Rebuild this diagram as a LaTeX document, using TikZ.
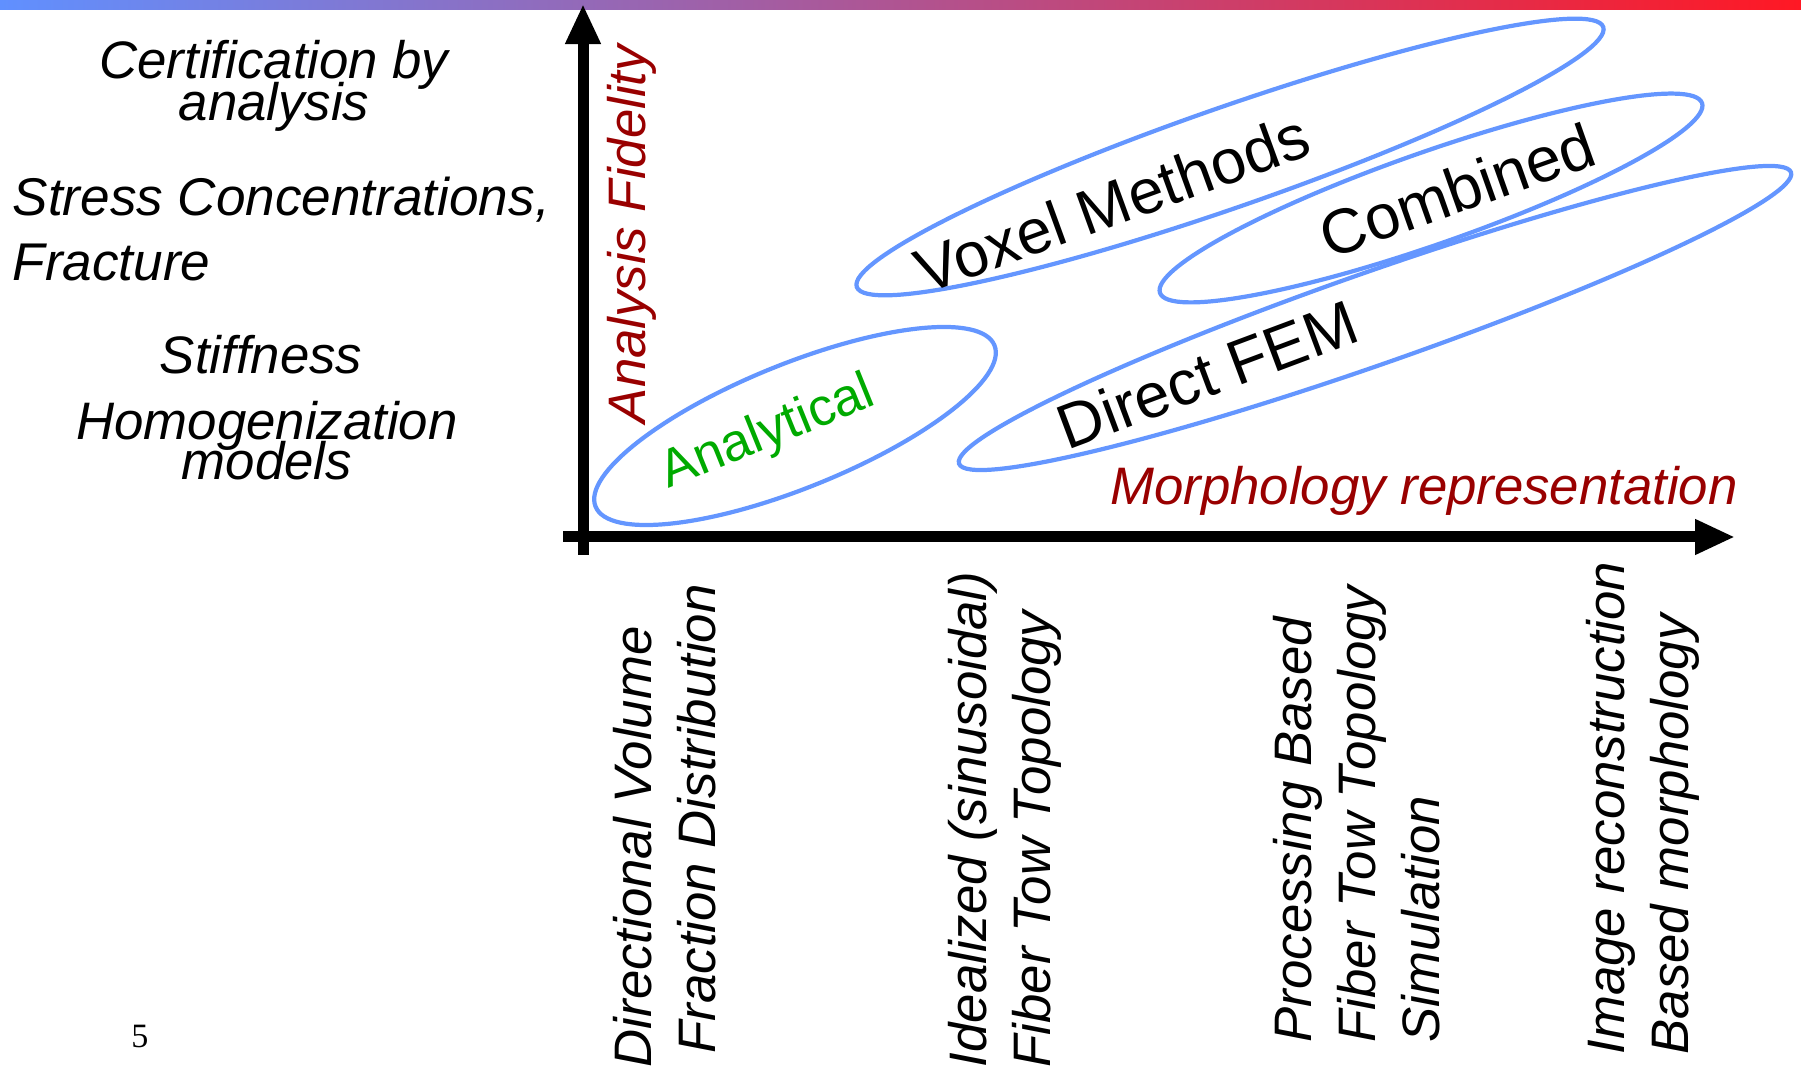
\documentclass[tikz,border=0pt]{standalone}
\usepackage{fontspec}
\setmainfont{Liberation Sans}
\newfontfamily\pagefont{Liberation Serif}
\usetikzlibrary{arrows.meta,shapes.geometric}

\definecolor{fidred}{RGB}{153,0,0}
\definecolor{anagreen}{RGB}{0,170,0}
\definecolor{blobblue}{RGB}{100,150,255}
\definecolor{barblue}{RGB}{96,144,255}
\definecolor{barred}{RGB}{255,24,36}

\newcommand\tightlines{\lineskiplimit-1cm\relax}

\tikzset{
  axis/.style={line width=0.11cm,-{Triangle[length=0.4cm,width=0.33cm]}},
  blob/.style={draw=blobblue,line width=1.2pt,ellipse,inner sep=0pt},
  lbl/.style={inner sep=0pt,font=\fontsize{15}{18}\selectfont\itshape},
  method/.style={inner sep=0pt,font=\fontsize{17.9}{21}\selectfont},
  level/.style={rotate=90,anchor=north west,align=left,inner sep=0pt,
    font=\fontsize{15}{18.2}\selectfont\itshape}
}

\begin{document}
\begin{tikzpicture}[x=0.01cm,y=-0.01cm]
\useasboundingbox (0,0) rectangle (1801,1071);

%title bar
\shade[left color=barblue,right color=barred] (0,0) rectangle (1801,10);

%axes
\coordinate (O1) at (583,555);
\coordinate (Ytip) at (583,4);
\coordinate (O2) at (563,537);
\coordinate (Xtip) at (1735,537);
\draw[axis] (O1) -- (Ytip);
\draw[axis] (O2) -- (Xtip);

\node[lbl,text=fidred,rotate=90] (fid) at (632,234) {Analysis Fidelity};
\node[lbl,text=fidred] (morph) at (1424,491) {Morphology representation};

%levels of analysis
\node[lbl,align=center,font=\fontsize{15}{11.95}\selectfont\itshape\tightlines] (cert) at (274,86) {Certification by\\analysis};
\node[lbl,align=left,anchor=west,font=\fontsize{15.1}{18.4}\selectfont\itshape\tightlines] (stress) at (12,229) {Stress Concentrations,\\Fracture};
\node[lbl] (stiff) at (261,355) {Stiffness};
\node[lbl,align=center,font=\fontsize{15}{11.4}\selectfont\itshape\tightlines] (homog) at (267,441) {Homogenization\\models};

%morphology levels
\node[level] (dvf) at (613,1068) {Directional Volume\\\hspace*{0.14cm}Fraction Distribution};
\node[level] (ideal) at (948,1068) {Idealized (sinusoidal)\\Fiber Tow Topology};
\node[level] (proc) at (1273,1043) {Processing Based\\Fiber Tow Topology\\Simulation};
\node[level] (image) at (1586,1055) {Image reconstruction\\Based morphology};

%method regions
\node[blob,minimum width=4.30cm,minimum height=1.24cm,rotate=22] (anaell) at (795,426) {};
\node[blob,minimum width=7.90cm,minimum height=1.00cm,rotate=19.2] (voxell) at (1230,157) {};
\node[blob,minimum width=5.74cm,minimum height=0.92cm,rotate=19.3] (combell) at (1431,198) {};
\node[blob,minimum width=8.81cm,minimum height=0.92cm,rotate=19.3] (femell) at (1375,318) {};

\node[lbl,font=\fontsize{15}{18}\selectfont,text=anagreen,rotate=22] (analytical) at (768,434) {Analytical};
\node[method,rotate=20] (voxel) at (1112,203) {Voxel Methods};
\node[method,rotate=19.5] (combined) at (1457,190) {Combined};
\node[method,rotate=20.5] (directfem) at (1207,374) {Direct FEM};

\node[font=\pagefont\fontsize{9.7}{11}\selectfont] (pagenum) at (140,1036) {5};
\end{tikzpicture}
\end{document}
